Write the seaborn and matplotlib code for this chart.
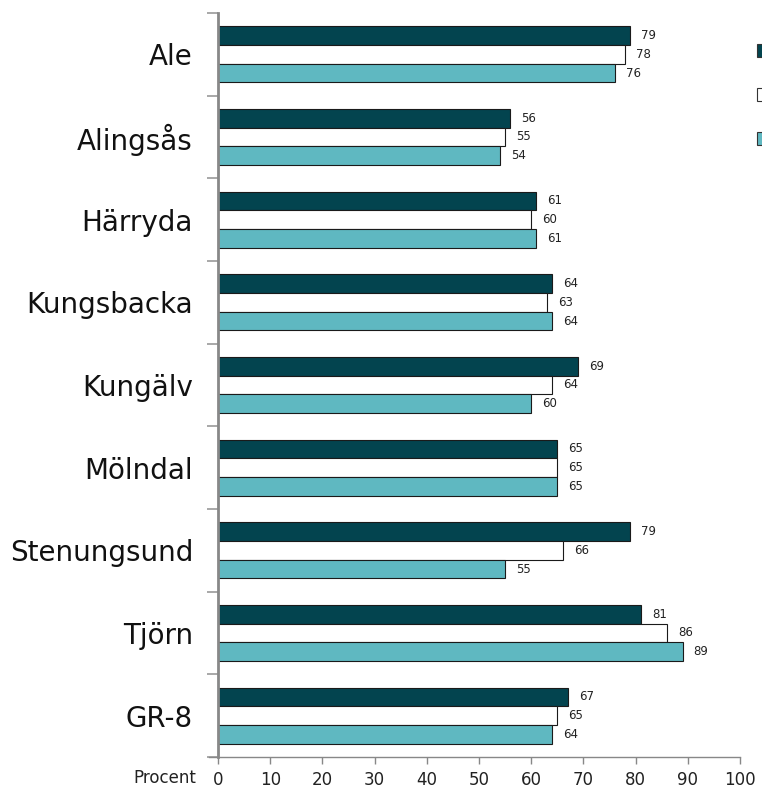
import numpy as np
import pandas as pd
import seaborn as sns
import matplotlib.pyplot as plt
from matplotlib.patches import Patch

kommuner = ['Ale', 'Alingsås', 'Härryda', 'Kungsbacka', 'Kungälv',
            'Mölndal', 'Stenungsund', 'Tjörn', 'GR-8']
serier = ['Serie 1', 'Serie 2', 'Serie 3']
serie1 = [79, 56, 61, 64, 69, 65, 79, 81, 67]
serie2 = [78, 55, 60, 63, 64, 65, 66, 86, 65]
serie3 = [76, 54, 61, 64, 60, 65, 55, 89, 64]
xticks = list(range(0, 101, 10))

df = pd.DataFrame({'kommun': kommuner * 3,
                   'serie': np.repeat(serier, len(kommuner)),
                   'procent': serie1 + serie2 + serie3})

farger = ['#03444f', '#ffffff', '#5fb8c1']

sns.set_style('white')
plt.rcParams['font.family'] = ['DejaVu Sans']

fig = plt.figure(figsize=(7.62, 7.91), dpi=100)
ax = fig.add_axes([218 / 762, 1 - 757 / 791, (740 - 218) / 762, (757 - 13) / 791])

sns.barplot(data=df, x='procent', y='kommun', hue='serie', order=kommuner,
            hue_order=serier, palette=farger, orient='h', width=0.68,
            edgecolor='#1a1a1a', linewidth=0.8, saturation=1, legend=False, ax=ax)

for c in ax.containers:
    ax.bar_label(c, fmt='%d', padding=8, fontsize=8.5, color='#222222')

ax.set_xlim(0, 100)
ax.set_ylim(len(kommuner) - 0.5, -0.5)
ax.set_xticks(xticks)
ax.set_xticklabels([str(t) for t in xticks], fontsize=12, color='#222222')
ax.tick_params(axis='x', bottom=True, length=5, width=1, color='#888888', pad=5, direction='out')
ax.set_yticks(np.arange(len(kommuner)))
ax.set_yticklabels(kommuner, fontsize=20, color='#111111')
ax.set_yticks(np.arange(-0.5, len(kommuner)), minor=True)
ax.tick_params(axis='y', which='major', left=False, length=0, pad=18)
ax.tick_params(axis='y', which='minor', left=True, length=8, width=1.2, color='#999999',
               direction='out')
ax.set_xlabel('')
ax.set_ylabel('')

for s in ['top', 'right']:
    ax.spines[s].set_visible(False)
ax.spines['left'].set_color('#888888')
ax.spines['left'].set_linewidth(2)
ax.spines['bottom'].set_color('#888888')
ax.spines['bottom'].set_linewidth(1)
ax.spines['bottom'].set_bounds(-1.7, 100)

ax.text(-0.042, -0.0165, 'Procent', transform=ax.transAxes, ha='right', va='top',
        fontsize=12, color='#222222')

handles = [Patch(facecolor=f, edgecolor='#333333', linewidth=0.8) for f in farger]
fig.legend(handles, ['', '', ''], loc='upper left', bbox_to_anchor=(750 / 762, 1 - 37 / 791),
           frameon=False, handlelength=1.0, handleheight=1.1, labelspacing=2.14,
           borderpad=0, handletextpad=0.2, fontsize=10)

fig.savefig('out.png', dpi=100)
